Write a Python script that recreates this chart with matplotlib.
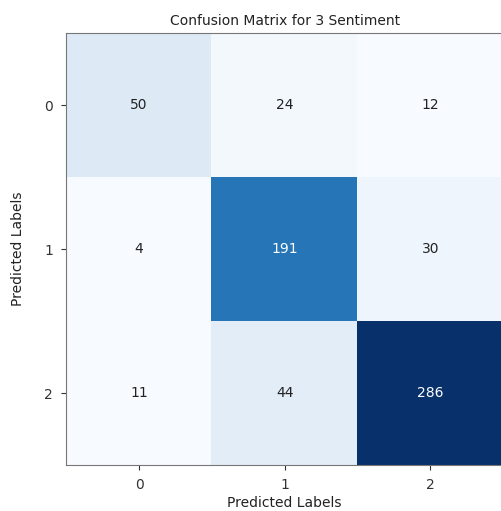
import numpy as np
import matplotlib
matplotlib.use("Agg")
import matplotlib.pyplot as plt
from matplotlib.colors import Normalize

labels = ["0", "1", "2"]
row0 = [50, 24, 12]
row1 = [4, 191, 30]
row2 = [11, 44, 286]

cm = np.array([row0, row1, row2])

fig = plt.figure(figsize=(5.02, 5.11), dpi=100)
ax = fig.add_axes([0.132, 0.09, 0.87, 0.845])
# screenshot has a stronger contrast than a plain 0..max scale
ax.imshow(cm, cmap="Blues", aspect="auto", norm=Normalize(vmin=20, vmax=255, clip=True))

thresh = cm.max() / 2
for i in range(cm.shape[0]):
    for j in range(cm.shape[1]):
        ax.text(j, i, str(cm[i, j]), ha="center", va="center",
                color="white" if cm[i, j] > thresh else "#222222", fontsize=10)

ax.set_xticks(range(len(labels)))
ax.set_xticklabels(labels)
ax.set_yticks(range(len(labels)))
ax.set_yticklabels(labels)
ax.tick_params(colors="#333333", pad=6)
ax.set_xlabel("Predicted Labels", fontsize=10, labelpad=3, color="#222222")
ax.set_ylabel("Predicted Labels", fontsize=10, labelpad=14, color="#222222")
ax.set_title("Confusion Matrix for 3 Sentiment", fontsize=10, color="#222222")
for s in ax.spines.values():
    s.set_color("#777777")

fig.savefig("out.png", dpi=100)
